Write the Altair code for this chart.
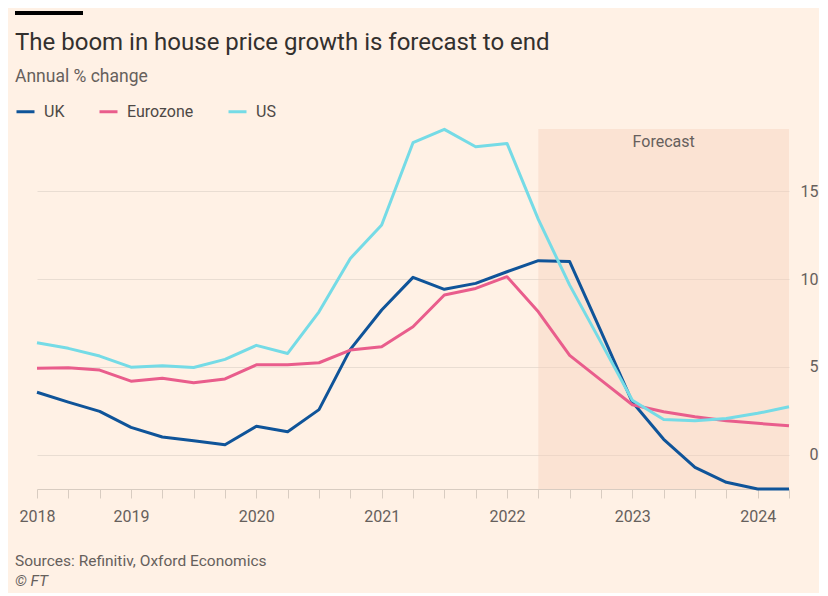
import altair as alt
import pandas as pd

# ---- data ----
quarters = [2018.25, 2018.5, 2018.75, 2019.0, 2019.25, 2019.5, 2019.75,
            2020.0, 2020.25, 2020.5, 2020.75, 2021.0, 2021.25, 2021.5, 2021.75,
            2022.0, 2022.25, 2022.5, 2022.75, 2023.0, 2023.25, 2023.5, 2023.75,
            2024.0, 2024.25]
uk = [3.56, 3.0, 2.47, 1.56, 1.01, 0.8, 0.57, 1.62, 1.31, 2.57, 6.0, 8.24,
      10.1, 9.42, 9.76, 10.42, 11.05, 11.0, 7.03, 3.0, 0.88, -0.72, -1.57,
      -1.95, -1.95]
eurozone = [4.93, 4.95, 4.82, 4.19, 4.36, 4.1, 4.32, 5.12, 5.12, 5.24, 5.96,
            6.15, 7.29, 9.1, 9.47, 10.14, 8.14, 5.66, 4.25, 2.85, 2.45, 2.17,
            1.94, 1.79, 1.65]
us = [6.38, 6.06, 5.62, 4.99, 5.07, 4.97, 5.43, 6.23, 5.77, 8.14, 11.18,
      13.08, 17.77, 18.53, 17.54, 17.73, 13.4, 9.66, 6.4, 3.1, 2.01, 1.94,
      2.07, 2.36, 2.73]
series_names = ["UK", "Eurozone", "US"]
series_colors = ["#0f5499", "#e95d8c", "#75dbe6"]
y_ticks = [0, 5, 10, 15]
forecast_start = 2022.25
forecast_end = 2024.25
forecast_label = "Forecast"
title_text = "The boom in house price growth is forecast to end"
subtitle_text = "Annual % change"
source_text = "Sources: Refinitiv, Oxford Economics"
credit_text = "\u00a9 FT"

FONT = "Roboto"
BG = "#fff1e5"
GREY = "#66605c"
W, H = 752, 360
Y_MIN, Y_MAX = -1.95, 18.55

rows = []
for name, vals in zip(series_names, [uk, eurozone, us]):
    for q, v in zip(quarters, vals):
        rows.append({"q": q, "v": v, "series": name})
df = pd.DataFrame(rows)

xscale = alt.Scale(domain=[quarters[0], quarters[-1]], nice=False, zero=False)
yscale = alt.Scale(domain=[Y_MIN, Y_MAX], nice=False, zero=False)

label_expr = ("datum.value == 2018.25 ? '2018' : "
              "(datum.value == floor(datum.value) ? format(datum.value, 'd') : '')")
x_axis = alt.Axis(values=quarters, labelExpr=label_expr, tickSize=9,
                  tickColor="#d8ccc1", domainColor="#d8ccc1", domainWidth=1,
                  grid=False, labelFontSize=16, labelColor=GREY, labelFont=FONT,
                  labelPadding=10, labelOverlap=False, labelFlush=False,
                  title=None)
y_axis = alt.Axis(values=y_ticks, orient="right", grid=True,
                  gridColor="#e9ddd2", gridWidth=1, domain=False, ticks=False,
                  labelAlign="right", labelPadding=29, labelFontSize=16,
                  labelColor=GREY, labelFont=FONT, labelBaseline="middle",
                  title=None)


def X(field):
    return alt.X(field, type="quantitative", scale=xscale, axis=x_axis)


def Y(field):
    return alt.Y(field, type="quantitative", scale=yscale, axis=y_axis)


shade_df = pd.DataFrame({"x": [forecast_start], "x2": [forecast_end],
                         "y": [Y_MAX], "y2": [Y_MIN]})
shade = alt.Chart(shade_df).mark_rect(color="#f5cfb9", opacity=0.4).encode(
    x=X("x"), x2="x2", y=Y("y"), y2="y2")

fc_df = pd.DataFrame({"x": [(forecast_start + forecast_end) / 2],
                      "t": [forecast_label]})
fc_text = alt.Chart(fc_df).mark_text(
    font=FONT, fontSize=16, color=GREY, baseline="middle", align="center"
).encode(x=X("x"), y=alt.value(13), text="t:N")

lines = alt.Chart(df).mark_line(strokeWidth=3, strokeJoin="round").encode(
    x=X("q"), y=Y("v"),
    color=alt.Color("series:N",
                    scale=alt.Scale(domain=series_names, range=series_colors),
                    sort=series_names,
                    legend=alt.Legend(orient="none", legendX=-22, legendY=-28,
                                      direction="horizontal", title=None,
                                      symbolType="stroke", symbolStrokeWidth=3,
                                      symbolSize=324, labelFontSize=16,
                                      labelFont=FONT, labelColor="#4d4845",
                                      labelOffset=8, columnPadding=28)),
    order=alt.Order("q:Q"))


def text_layer(txt, x, y, size, color, italic=False, weight="normal"):
    d = pd.DataFrame({"t": [txt]})
    return alt.Chart(d).mark_text(
        font=FONT, fontSize=size, color=color, align="left",
        baseline="alphabetic", fontStyle="italic" if italic else "normal",
        fontWeight=weight
    ).encode(x=alt.value(x), y=alt.value(y), text="t:N")


title = text_layer(title_text, -22, -79, 24, "#33302e")
subtitle = text_layer(subtitle_text, -22, -47, 17.5, GREY)
source = text_layer(source_text, -22, 437, 15.5, GREY)
credit = text_layer(credit_text, -22, 457, 15.5, GREY, italic=True)

bar = alt.Chart(pd.DataFrame({"k": [1]})).mark_rule(
    color="#000000", strokeWidth=4).encode(
    x=alt.value(-22), x2=alt.value(46), y=alt.value(-116))

chart = alt.layer(shade, lines, fc_text, title, subtitle, source, credit, bar).properties(
    width=W, height=H, background=BG,
    autosize=alt.AutoSizeParams(type="none"),
    padding={"left": 29, "top": 121, "right": 30, "bottom": 104}
).configure_view(stroke=None)

chart.save("out.html", embed_options={"renderer": "svg", "actions": False})
